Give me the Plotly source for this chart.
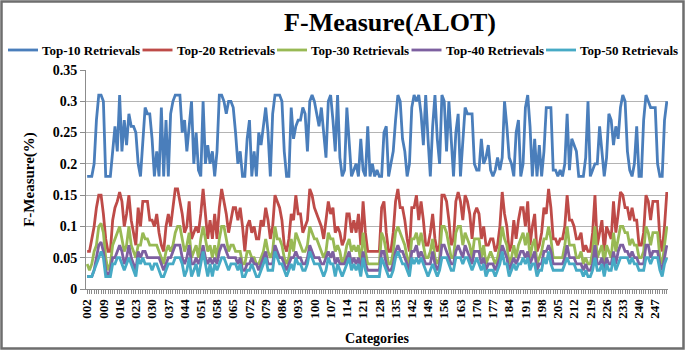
import plotly.graph_objects as go

categories = [f"{n:03d}" for n in range(2, 253)]
tick_every = 7
x_tick_text = [c if k % tick_every == 0 else "" for k, c in enumerate(categories)]

y_tick_vals = [0, 0.05, 0.1, 0.15, 0.2, 0.25, 0.3, 0.35]
y_tick_text = ["0", "0.05", "0.1", "0.15", "0.2", "0.25", "0.3", "0.35"]

series_names = ["Top-10 Retrievals", "Top-20 Retrievals", "Top-30 Retrievals",
                "Top-40 Retrievals", "Top-50 Retrievals"]
series_colors = ["#4A7EBB", "#BE4B48", "#98B954", "#7D60A0", "#46AAC5"]

top10 = [
    0.18, 0.18, 0.18, 0.2, 0.27, 0.31, 0.31, 0.3, 0.18, 0.18,
    0.18, 0.22, 0.26, 0.22, 0.31, 0.22, 0.27, 0.23, 0.28, 0.26,
    0.26, 0.25, 0.2, 0.18, 0.24, 0.29, 0.28, 0.28, 0.24, 0.18,
    0.22, 0.18, 0.29, 0.18, 0.27, 0.18, 0.28, 0.3, 0.31, 0.31,
    0.31, 0.25, 0.27, 0.22, 0.26, 0.3, 0.2, 0.25, 0.19, 0.18,
    0.3, 0.2, 0.23, 0.2, 0.22, 0.18, 0.22, 0.31, 0.31, 0.3,
    0.28, 0.3, 0.3, 0.29, 0.25, 0.2, 0.22, 0.18, 0.18, 0.24,
    0.27, 0.18, 0.22, 0.18, 0.25, 0.23, 0.26, 0.29, 0.25, 0.18,
    0.28, 0.31, 0.31, 0.31, 0.3, 0.22, 0.18, 0.18, 0.29, 0.24,
    0.26, 0.27, 0.27, 0.29, 0.28, 0.22, 0.3, 0.31, 0.3, 0.28,
    0.26, 0.29, 0.25, 0.21, 0.3, 0.31, 0.27, 0.22, 0.31, 0.21,
    0.18, 0.19, 0.29, 0.23, 0.18, 0.19, 0.2, 0.18, 0.24, 0.19,
    0.18, 0.26, 0.18, 0.2, 0.18, 0.19, 0.18, 0.18, 0.25, 0.26,
    0.18, 0.2, 0.22, 0.27, 0.31, 0.3, 0.24, 0.22, 0.18, 0.2,
    0.29, 0.31, 0.3, 0.31, 0.28, 0.23, 0.31, 0.24, 0.18, 0.26,
    0.31, 0.24, 0.2, 0.31, 0.3, 0.22, 0.3, 0.24, 0.18, 0.25,
    0.28, 0.18, 0.24, 0.29, 0.28, 0.28, 0.28, 0.2, 0.19, 0.19,
    0.24, 0.2, 0.21, 0.23, 0.19, 0.18, 0.19, 0.21, 0.19, 0.21,
    0.3, 0.26, 0.21, 0.2, 0.18, 0.25, 0.27, 0.18, 0.2, 0.29,
    0.31, 0.26, 0.18, 0.24, 0.18, 0.23, 0.18, 0.22, 0.29, 0.29,
    0.29, 0.19, 0.19, 0.18, 0.19, 0.18, 0.2, 0.28, 0.19, 0.24,
    0.23, 0.22, 0.18, 0.18, 0.18, 0.21, 0.3, 0.18, 0.19, 0.2,
    0.2, 0.26, 0.22, 0.18, 0.21, 0.28, 0.27, 0.23, 0.26, 0.24,
    0.29, 0.31, 0.3, 0.22, 0.19, 0.18, 0.2, 0.26, 0.18, 0.18,
    0.27, 0.31, 0.3, 0.29, 0.29, 0.29, 0.2, 0.18, 0.18, 0.27, 0.3,
]

top20 = [
    0.06, 0.06, 0.08, 0.1, 0.13, 0.15, 0.15, 0.12, 0.08, 0.06,
    0.06, 0.11, 0.13, 0.14, 0.155, 0.14, 0.1, 0.12, 0.15, 0.11,
    0.09, 0.07, 0.13, 0.1, 0.14, 0.14, 0.14, 0.11, 0.11, 0.1,
    0.12, 0.09, 0.07, 0.06, 0.1, 0.12, 0.1, 0.13, 0.16, 0.16,
    0.14, 0.12, 0.09, 0.1, 0.14, 0.08, 0.09, 0.1, 0.09, 0.12,
    0.16, 0.12, 0.08, 0.11, 0.08, 0.12, 0.08, 0.13, 0.16, 0.14,
    0.12, 0.09, 0.11, 0.13, 0.13, 0.11, 0.13, 0.1, 0.06, 0.1,
    0.11, 0.09, 0.1, 0.08, 0.08, 0.11, 0.1, 0.13, 0.11, 0.08,
    0.1, 0.15, 0.14, 0.13, 0.11, 0.07, 0.06, 0.08, 0.12, 0.11,
    0.15, 0.12, 0.12, 0.09, 0.1, 0.11, 0.16, 0.15, 0.13, 0.12,
    0.11, 0.1, 0.08, 0.11, 0.14, 0.12, 0.13, 0.09, 0.1, 0.09,
    0.07, 0.08, 0.12, 0.12, 0.09, 0.11, 0.09, 0.12, 0.07, 0.14,
    0.09, 0.06, 0.06, 0.06, 0.06, 0.06, 0.06, 0.13, 0.14, 0.09,
    0.06, 0.06, 0.09, 0.14, 0.16, 0.13, 0.13, 0.11, 0.08, 0.06,
    0.13, 0.13, 0.15, 0.11, 0.14, 0.11, 0.07, 0.07, 0.09, 0.12,
    0.08, 0.06, 0.07, 0.15, 0.15, 0.14, 0.11, 0.07, 0.08, 0.14,
    0.155, 0.14, 0.11, 0.15, 0.14, 0.12, 0.08, 0.12, 0.13, 0.12,
    0.08, 0.1, 0.07, 0.07, 0.08, 0.08, 0.06, 0.07, 0.1, 0.155,
    0.12, 0.1, 0.06, 0.07, 0.11, 0.08, 0.11, 0.13, 0.13, 0.1,
    0.14, 0.07, 0.1, 0.12, 0.06, 0.07, 0.09, 0.13, 0.12, 0.16,
    0.13, 0.08, 0.08, 0.07, 0.08, 0.08, 0.1, 0.15, 0.11, 0.11,
    0.1, 0.08, 0.08, 0.09, 0.06, 0.07, 0.06, 0.06, 0.09, 0.15,
    0.07, 0.09, 0.11, 0.06, 0.1, 0.09, 0.08, 0.14, 0.09, 0.12,
    0.155, 0.15, 0.13, 0.13, 0.11, 0.13, 0.11, 0.11, 0.07, 0.07,
    0.09, 0.15, 0.14, 0.11, 0.14, 0.14, 0.14, 0.08, 0.06, 0.1, 0.155,
]

top30 = [
    0.04, 0.03, 0.04, 0.06, 0.07, 0.1, 0.105, 0.09, 0.05, 0.03,
    0.04, 0.07, 0.08, 0.09, 0.1, 0.08, 0.06, 0.07, 0.1, 0.07,
    0.06, 0.05, 0.07, 0.07, 0.09, 0.08, 0.08, 0.07, 0.07, 0.07,
    0.07, 0.06, 0.05, 0.04, 0.06, 0.07, 0.06, 0.07, 0.09, 0.1,
    0.1, 0.08, 0.06, 0.07, 0.09, 0.05, 0.06, 0.07, 0.05, 0.08,
    0.1, 0.08, 0.06, 0.07, 0.05, 0.07, 0.05, 0.08, 0.1, 0.1,
    0.08, 0.06, 0.07, 0.07, 0.06, 0.06, 0.06, 0.04, 0.04, 0.06,
    0.06, 0.05, 0.05, 0.04, 0.04, 0.05, 0.06, 0.08, 0.06, 0.05,
    0.06, 0.1, 0.08, 0.08, 0.07, 0.05, 0.04, 0.05, 0.08, 0.06,
    0.09, 0.08, 0.07, 0.06, 0.06, 0.07, 0.1, 0.09, 0.08, 0.08,
    0.07, 0.06, 0.05, 0.06, 0.09, 0.08, 0.08, 0.06, 0.07, 0.06,
    0.04, 0.05, 0.07, 0.08, 0.06, 0.07, 0.06, 0.07, 0.04, 0.09,
    0.06, 0.04, 0.04, 0.04, 0.04, 0.04, 0.04, 0.09, 0.08, 0.06,
    0.04, 0.04, 0.06, 0.09, 0.1, 0.09, 0.08, 0.07, 0.05, 0.04,
    0.08, 0.08, 0.09, 0.07, 0.09, 0.07, 0.05, 0.05, 0.06, 0.08,
    0.05, 0.04, 0.05, 0.1, 0.1, 0.09, 0.07, 0.05, 0.05, 0.09,
    0.1, 0.1, 0.07, 0.09, 0.08, 0.07, 0.05, 0.08, 0.08, 0.08,
    0.05, 0.07, 0.04, 0.05, 0.06, 0.05, 0.04, 0.05, 0.07, 0.1,
    0.08, 0.07, 0.04, 0.05, 0.07, 0.05, 0.07, 0.08, 0.09, 0.07,
    0.09, 0.05, 0.07, 0.08, 0.04, 0.05, 0.06, 0.08, 0.08, 0.1,
    0.08, 0.05, 0.05, 0.05, 0.05, 0.05, 0.07, 0.1, 0.07, 0.07,
    0.07, 0.05, 0.05, 0.06, 0.04, 0.05, 0.04, 0.04, 0.06, 0.1,
    0.05, 0.06, 0.07, 0.04, 0.07, 0.06, 0.05, 0.09, 0.06, 0.08,
    0.1, 0.1, 0.09, 0.09, 0.07, 0.08, 0.07, 0.07, 0.05, 0.05,
    0.06, 0.1, 0.09, 0.07, 0.09, 0.09, 0.09, 0.05, 0.04, 0.07, 0.1,
]

top40 = [
    0.02, 0.02, 0.02, 0.03, 0.05, 0.07, 0.075, 0.06, 0.03, 0.02,
    0.03, 0.05, 0.05, 0.06, 0.07, 0.06, 0.04, 0.05, 0.07, 0.05,
    0.04, 0.03, 0.06, 0.05, 0.06, 0.06, 0.05, 0.05, 0.05, 0.05,
    0.05, 0.05, 0.04, 0.03, 0.04, 0.05, 0.05, 0.06, 0.07, 0.07,
    0.07, 0.05, 0.04, 0.05, 0.07, 0.04, 0.04, 0.05, 0.04, 0.05,
    0.07, 0.05, 0.04, 0.05, 0.04, 0.05, 0.04, 0.06, 0.07, 0.07,
    0.06, 0.05, 0.05, 0.05, 0.05, 0.04, 0.05, 0.03, 0.03, 0.04,
    0.04, 0.05, 0.04, 0.04, 0.03, 0.04, 0.05, 0.06, 0.04, 0.04,
    0.04, 0.07, 0.06, 0.05, 0.05, 0.04, 0.03, 0.04, 0.05, 0.05,
    0.06, 0.05, 0.05, 0.04, 0.04, 0.05, 0.07, 0.06, 0.05, 0.05,
    0.05, 0.04, 0.04, 0.05, 0.06, 0.05, 0.06, 0.04, 0.05, 0.04,
    0.04, 0.04, 0.05, 0.06, 0.04, 0.05, 0.04, 0.05, 0.03, 0.06,
    0.04, 0.03, 0.03, 0.03, 0.03, 0.03, 0.03, 0.06, 0.06, 0.04,
    0.03, 0.03, 0.04, 0.06, 0.07, 0.06, 0.06, 0.05, 0.04, 0.03,
    0.06, 0.06, 0.07, 0.05, 0.06, 0.05, 0.04, 0.04, 0.04, 0.06,
    0.04, 0.03, 0.04, 0.07, 0.07, 0.06, 0.05, 0.04, 0.04, 0.06,
    0.07, 0.06, 0.05, 0.07, 0.06, 0.05, 0.04, 0.06, 0.06, 0.06,
    0.04, 0.05, 0.03, 0.04, 0.04, 0.04, 0.03, 0.04, 0.05, 0.07,
    0.06, 0.05, 0.03, 0.04, 0.05, 0.04, 0.05, 0.06, 0.06, 0.05,
    0.06, 0.04, 0.05, 0.06, 0.03, 0.04, 0.04, 0.06, 0.06, 0.07,
    0.06, 0.04, 0.04, 0.04, 0.04, 0.04, 0.05, 0.07, 0.05, 0.05,
    0.05, 0.04, 0.04, 0.04, 0.03, 0.04, 0.03, 0.03, 0.04, 0.07,
    0.04, 0.04, 0.05, 0.03, 0.05, 0.04, 0.04, 0.06, 0.04, 0.06,
    0.07, 0.07, 0.06, 0.06, 0.05, 0.06, 0.05, 0.05, 0.04, 0.04,
    0.04, 0.07, 0.07, 0.05, 0.06, 0.06, 0.06, 0.04, 0.03, 0.05, 0.07,
]

top50 = [
    0.02, 0.02, 0.02, 0.03, 0.04, 0.05, 0.06, 0.05, 0.02, 0.02,
    0.02, 0.04, 0.04, 0.05, 0.05, 0.04, 0.03, 0.04, 0.05, 0.04,
    0.03, 0.02, 0.05, 0.04, 0.05, 0.04, 0.04, 0.04, 0.03, 0.04,
    0.04, 0.03, 0.02, 0.02, 0.03, 0.04, 0.04, 0.04, 0.05, 0.05,
    0.05, 0.04, 0.02, 0.03, 0.05, 0.02, 0.03, 0.04, 0.02, 0.04,
    0.06, 0.04, 0.02, 0.04, 0.02, 0.04, 0.03, 0.04, 0.05, 0.05,
    0.04, 0.03, 0.04, 0.04, 0.04, 0.03, 0.04, 0.02, 0.02, 0.03,
    0.03, 0.04, 0.03, 0.02, 0.02, 0.03, 0.04, 0.05, 0.03, 0.03,
    0.03, 0.06, 0.05, 0.04, 0.04, 0.03, 0.02, 0.03, 0.04, 0.03,
    0.05, 0.04, 0.04, 0.03, 0.03, 0.04, 0.06, 0.05, 0.04, 0.04,
    0.04, 0.03, 0.02, 0.03, 0.05, 0.04, 0.04, 0.02, 0.04, 0.03,
    0.02, 0.03, 0.04, 0.05, 0.03, 0.04, 0.03, 0.04, 0.02, 0.05,
    0.03, 0.02, 0.02, 0.02, 0.02, 0.02, 0.02, 0.05, 0.04, 0.03,
    0.02, 0.02, 0.03, 0.05, 0.06, 0.05, 0.04, 0.04, 0.03, 0.02,
    0.05, 0.04, 0.05, 0.04, 0.05, 0.04, 0.03, 0.02, 0.03, 0.04,
    0.03, 0.02, 0.03, 0.05, 0.05, 0.05, 0.04, 0.03, 0.03, 0.05,
    0.05, 0.05, 0.04, 0.05, 0.05, 0.04, 0.03, 0.04, 0.05, 0.04,
    0.03, 0.04, 0.02, 0.03, 0.03, 0.03, 0.02, 0.03, 0.04, 0.06,
    0.04, 0.04, 0.02, 0.03, 0.04, 0.03, 0.04, 0.04, 0.05, 0.04,
    0.05, 0.03, 0.04, 0.04, 0.02, 0.03, 0.03, 0.05, 0.04, 0.06,
    0.04, 0.03, 0.03, 0.03, 0.03, 0.03, 0.04, 0.05, 0.04, 0.04,
    0.04, 0.03, 0.03, 0.03, 0.02, 0.03, 0.02, 0.02, 0.03, 0.05,
    0.03, 0.03, 0.04, 0.02, 0.04, 0.03, 0.03, 0.05, 0.03, 0.04,
    0.05, 0.05, 0.05, 0.05, 0.04, 0.05, 0.04, 0.04, 0.03, 0.03,
    0.03, 0.05, 0.05, 0.04, 0.05, 0.05, 0.05, 0.03, 0.02, 0.04, 0.05,
]

series_values = [top10, top20, top30, top40, top50]

W, H = 685, 350
ML, MR, MT, MB = 86, 17, 70, 61
PW, PH = W - ML - MR, H - MT - MB

SERIF = "Liberation Serif, Times New Roman, serif"


def px_x(px):
    return (px - ML) / PW


def px_y(py):
    return 1 + (MT - py) / PH


fig = go.Figure()
for name, color, vals in zip(series_names, series_colors, series_values):
    fig.add_trace(go.Scatter(
        x=categories, y=vals, name=name, mode="lines",
        line=dict(color=color, width=2.8), showlegend=False,
    ))

fig.update_layout(
    width=W, height=H,
    margin=dict(l=ML, r=MR, t=MT, b=MB, autoexpand=False),
    paper_bgcolor="white", plot_bgcolor="white",
    font=dict(family=SERIF, color="black"),
    title=dict(text="<b>F-Measure(ALOT)</b>", x=390 / W, xref="container", xanchor="center",
               y=1 - 22 / H, yref="container", yanchor="middle",
               font=dict(family=SERIF, size=26, color="black")),
    showlegend=False,
    xaxis=dict(
        type="category", range=[-0.5, len(categories) - 0.5],
        tickmode="array", tickvals=categories, ticktext=x_tick_text,
        tickangle=-90, ticks="outside", ticklen=4, tickcolor="#8c8c8c", tickwidth=1,
        tickfont=dict(family=SERIF, size=13, color="black", weight="bold"),
        showline=True, linecolor="#8c8c8c", linewidth=1,
        showgrid=False, zeroline=False,
        title=dict(text="<b>Categories</b>", font=dict(family=SERIF, size=14, color="black"),
                   standoff=15),
    ),
    yaxis=dict(
        range=[0, 0.35], tickmode="array", tickvals=y_tick_vals, ticktext=y_tick_text,
        ticks="outside", ticklen=5, tickcolor="#8c8c8c",
        tickfont=dict(family=SERIF, size=14, color="black", weight="bold"),
        showline=True, linecolor="#8c8c8c", linewidth=1,
        showgrid=True, gridcolor="#b4b4b4", gridwidth=1, zeroline=False,
        title=dict(text="<b>F-Measure(%)</b>", font=dict(family=SERIF, size=15, color="black"),
                   standoff=14),
    ),
)

# legend (one row across the top), built from the series names and colours
LEG_X0, LEG_STEP, LEG_Y = 8, 134.5, 50
for k, (name, color) in enumerate(zip(series_names, series_colors)):
    x0 = LEG_X0 + k * LEG_STEP
    fig.add_shape(type="line", xref="paper", yref="paper",
                  x0=px_x(x0), x1=px_x(x0 + 30), y0=px_y(LEG_Y), y1=px_y(LEG_Y),
                  line=dict(color=color, width=2.8))
    fig.add_annotation(text=f"<b>{name}</b>", xref="paper", yref="paper",
                       x=px_x(x0 + 32), y=px_y(LEG_Y), xanchor="left", yanchor="middle",
                       showarrow=False, font=dict(family=SERIF, size=13, color="black"))

# chart-area border
fig.add_shape(type="rect", xref="paper", yref="paper",
              x0=px_x(1.5), x1=px_x(W - 1.5), y0=px_y(H - 1.5), y1=px_y(1.5),
              line=dict(color="#6e6e6e", width=2.5), fillcolor="rgba(0,0,0,0)", layer="above")

fig.write_html(
    "out.html",
    config={"displayModeBar": False},
    post_script="document.body.style.margin='0';document.body.style.padding='0';"
                "document.documentElement.style.overflow='hidden';",
)
